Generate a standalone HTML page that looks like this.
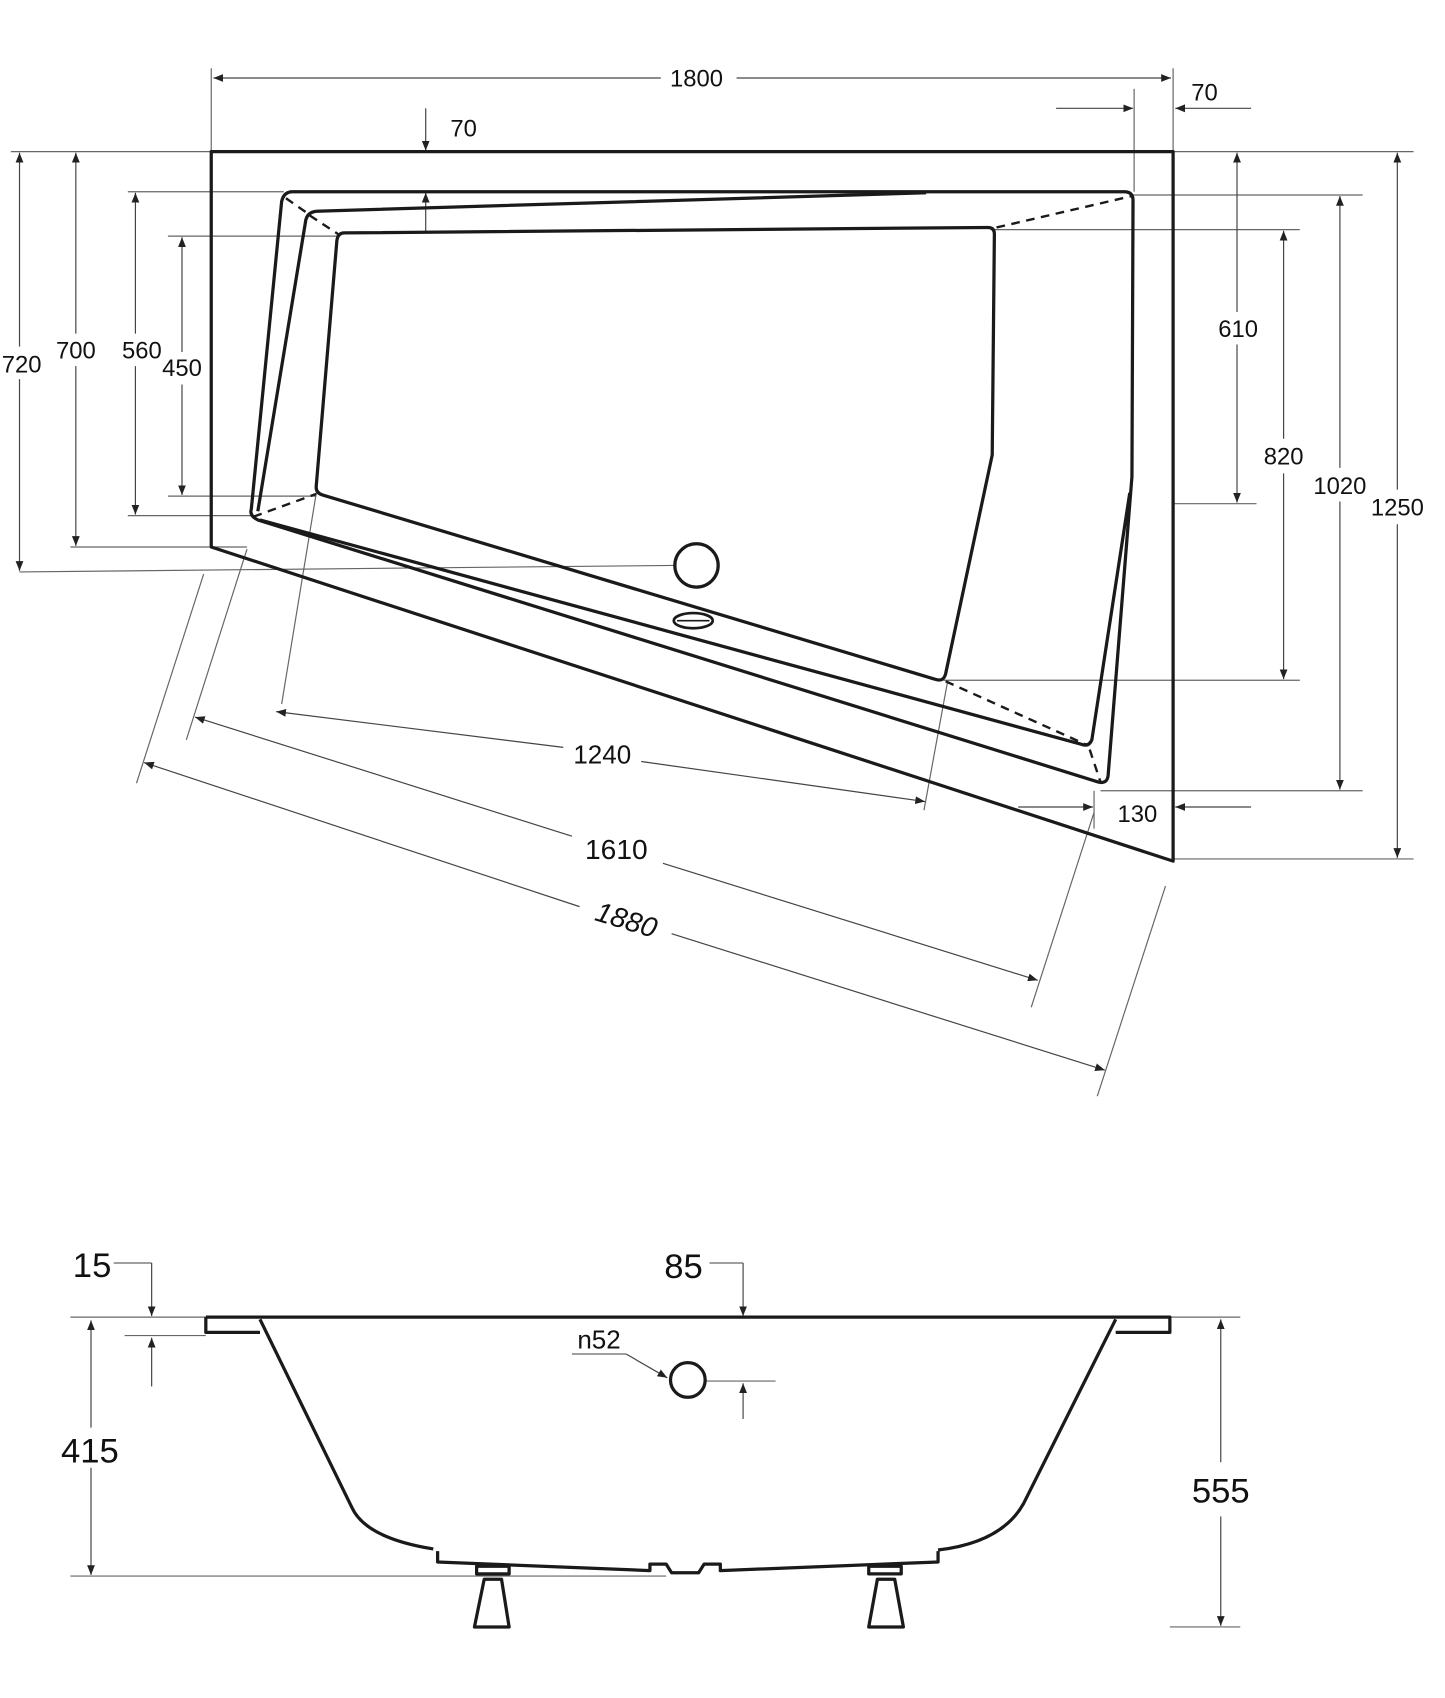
<!DOCTYPE html>
<html><head><meta charset="utf-8"><style>html,body{margin:0;padding:0;background:#fff}svg{display:block}text{font-family:"Liberation Sans",Arial,sans-serif;fill:#111}</style></head><body>
<svg width="1445" height="1698" viewBox="0 0 1334 1567.6" xmlns="http://www.w3.org/2000/svg">
<defs>
<marker id="a" viewBox="0 0 10 10" refX="10" refY="5" markerWidth="9" markerHeight="9" markerUnits="userSpaceOnUse" orient="auto-start-reverse"><path d="M0,1 L10,5 L0,9 z" fill="#222"/></marker>
</defs>
<g stroke="#666" stroke-width="1.1" fill="none">
<!-- top extension lines -->
<line x1="195" y1="63" x2="195" y2="140"/><line x1="1083" y1="63" x2="1083" y2="140"/>
<line x1="1047" y1="82" x2="1047" y2="177"/>
<line x1="10" y1="140" x2="195" y2="140"/><line x1="1083" y1="140" x2="1305" y2="140"/>
<line x1="118" y1="177" x2="262" y2="177"/><line x1="155" y1="218" x2="312" y2="218"/>
<line x1="155" y1="458" x2="292" y2="458"/><line x1="118" y1="476" x2="232" y2="476"/>
<line x1="65" y1="505" x2="228" y2="505"/><line x1="18" y1="528" x2="622" y2="522"/>
<line x1="1046" y1="180" x2="1258" y2="180"/><line x1="918" y1="212" x2="1200" y2="212"/>
<line x1="1083" y1="465" x2="1160" y2="465"/><line x1="871" y1="628" x2="1200" y2="628"/>
<line x1="1016" y1="730" x2="1258" y2="730"/><line x1="1083" y1="793" x2="1305" y2="793"/>
<line x1="1010" y1="730" x2="1010" y2="765"/>
<!-- slanted ext -->
<line x1="260" y1="650" x2="292" y2="455"/><line x1="853" y1="748" x2="875" y2="628"/>
<line x1="172" y1="683" x2="228" y2="507"/><line x1="952" y1="930" x2="1010" y2="750"/>
<line x1="126" y1="723" x2="188" y2="530"/><line x1="1013" y1="1012" x2="1076" y2="818"/>
</g>
<g stroke="#444" stroke-width="1.1" fill="none" marker-end="url(#a)">
<line x1="610" y1="72" x2="197" y2="72"/><line x1="680" y1="72" x2="1081" y2="72"/>
<line x1="975" y1="100" x2="1046" y2="100"/><line x1="1155" y1="100" x2="1085" y2="100"/>
<line x1="393" y1="100" x2="393" y2="139"/><line x1="393" y1="215" x2="393" y2="178"/>
<line x1="18" y1="320" x2="18" y2="141"/><line x1="18" y1="350" x2="18" y2="527"/>
<line x1="70" y1="308" x2="70" y2="141"/><line x1="70" y1="338" x2="70" y2="504"/>
<line x1="125" y1="308" x2="125" y2="178"/><line x1="125" y1="338" x2="125" y2="475"/>
<line x1="168" y1="325" x2="168" y2="219"/><line x1="168" y1="355" x2="168" y2="457"/>
<line x1="1142" y1="288" x2="1142" y2="141"/><line x1="1142" y1="318" x2="1142" y2="464"/>
<line x1="1185" y1="405" x2="1185" y2="213"/><line x1="1185" y1="437" x2="1185" y2="627"/>
<line x1="1237" y1="432" x2="1237" y2="181"/><line x1="1237" y1="463" x2="1237" y2="729"/>
<line x1="1290" y1="452" x2="1290" y2="141"/><line x1="1290" y1="484" x2="1290" y2="792"/>
<line x1="940" y1="745" x2="1009" y2="745"/><line x1="1155" y1="745" x2="1085" y2="745"/>
<line x1="520" y1="690" x2="255" y2="657"/><line x1="592" y1="703" x2="854" y2="740"/>
<line x1="528" y1="772" x2="180" y2="662"/><line x1="612" y1="797" x2="958" y2="905"/>
<line x1="535" y1="837" x2="133" y2="704"/><line x1="620" y1="862" x2="1020" y2="988"/>
</g>
<!-- rim -->
<g stroke="#1a1a1a" stroke-width="3" fill="none" stroke-linejoin="round">
<path d="M195,140 L1083,140 L1083,795 L195,505 Z"/>
<path d="M270,177 L1038,177 Q1046,177 1046,185 L1045,440 L1023,716 Q1022,724 1014,722 L238,480 Q230,476 232,470 L260,186 Q262,177 270,177 Z"/>
<path d="M292,195 L855,178 M292,195 Q283,196 282,205 L238,472 M1043,455 L1008,683 Q1005,690 998,687 L240,480"/>
<path d="M318,215 L912,210 Q918,210 918,216 L916,420 L873,622 Q871,630 863,627 L298,457 Q291,455 292,448 L311,222 Q312,215 318,215 Z"/>
</g>
<g stroke="#1a1a1a" stroke-width="2.2" fill="none" stroke-dasharray="8,6">
<line x1="264" y1="183" x2="284" y2="197"/><line x1="286" y1="199" x2="312" y2="216"/>
<line x1="920" y1="210" x2="1045" y2="181"/>
<line x1="234" y1="477" x2="292" y2="456"/>
<line x1="873" y1="629" x2="1004" y2="688"/><line x1="1006" y1="692" x2="1016" y2="722"/>
</g>
<circle cx="643" cy="522" r="20" stroke="#1a1a1a" stroke-width="3" fill="#fff"/>
<ellipse cx="640" cy="573" rx="18" ry="7" stroke="#1a1a1a" stroke-width="2.5" fill="none"/>
<line x1="625" y1="573" x2="655" y2="573" stroke="#1a1a1a" stroke-width="1.5"/>
<g font-size="22" text-anchor="middle">
<text x="643" y="80" fill="#111">1800</text>
<text x="1112" y="93">70</text>
<text x="428" y="126">70</text>
<text x="20" y="344">720</text>
<text x="70" y="331">700</text>
<text x="131" y="331">560</text>
<text x="168" y="347">450</text>
<text x="1143" y="311">610</text>
<text x="1185" y="429">820</text>
<text x="1237" y="456">1020</text>
<text x="1290" y="476">1250</text>
<text x="1050" y="759">130</text>
<text x="556" y="705" font-size="24">1240</text>
<text x="569" y="793" font-size="26">1610</text>
<text x="578" y="858" font-size="26" font-style="italic" transform="rotate(17 578 850)">1880</text>
</g>
<!-- side view -->
<g stroke="#666" stroke-width="1.1" fill="none">
<line x1="65" y1="1216" x2="190" y2="1216"/><line x1="115" y1="1233" x2="190" y2="1233"/>
<line x1="65" y1="1455" x2="615" y2="1455"/>
<line x1="1080" y1="1216" x2="1145" y2="1216"/><line x1="1080" y1="1502" x2="1145" y2="1502"/>
<line x1="105" y1="1166" x2="140" y2="1166"/><line x1="655" y1="1166" x2="686" y2="1166"/>
<line x1="528" y1="1250" x2="578" y2="1250"/><line x1="652" y1="1275" x2="716" y2="1275"/>
</g>
<g stroke="#444" stroke-width="1.1" fill="none" marker-end="url(#a)">
<line x1="140" y1="1166" x2="140" y2="1215"/><line x1="140" y1="1280" x2="140" y2="1235"/>
<line x1="84" y1="1318" x2="84" y2="1219"/><line x1="84" y1="1355" x2="84" y2="1454"/>
<line x1="686" y1="1166" x2="686" y2="1215"/><line x1="686" y1="1310" x2="686" y2="1277"/>
<line x1="578" y1="1250" x2="616" y2="1272"/>
<line x1="1127" y1="1350" x2="1127" y2="1218"/><line x1="1127" y1="1400" x2="1127" y2="1501"/>
</g>
<g stroke="#1a1a1a" stroke-width="3" fill="none" stroke-linejoin="round">
<path d="M190,1216 L1080,1216 L1080,1230 L1030,1230 M190,1216 L190,1230 L240,1230"/>
<path d="M240,1218 L325,1392 Q338,1420 400,1430 M1030,1218 L945,1388 Q925,1424 866,1431"/>
<path d="M404,1432 L404,1442 L600,1450 L600,1444 L615,1444 L620,1452 L645,1452 L650,1444 L665,1444 L665,1450 L866,1442 L866,1432"/>
<path d="M440,1446 L470,1446 L470,1453 L440,1453 Z M447,1458 L463,1458 L470,1502 L438,1502 Z"/>
<path d="M802,1446 L832,1446 L832,1453 L802,1453 Z M810,1458 L826,1458 L834,1502 L802,1502 Z"/>
</g>
<line x1="404" y1="1436" x2="866" y2="1436" stroke="#1a1a1a" stroke-width="0" />
<circle cx="635" cy="1274" r="16" stroke="#1a1a1a" stroke-width="3" fill="#fff"/>
<g font-size="32" text-anchor="middle">
<text x="85" y="1179">15</text>
<text x="631" y="1180">85</text>
<text x="553" y="1245" font-size="24">n52</text>
<text x="83" y="1350">415</text>
<text x="1127" y="1387">555</text>
</g>
</svg>
</body></html>
